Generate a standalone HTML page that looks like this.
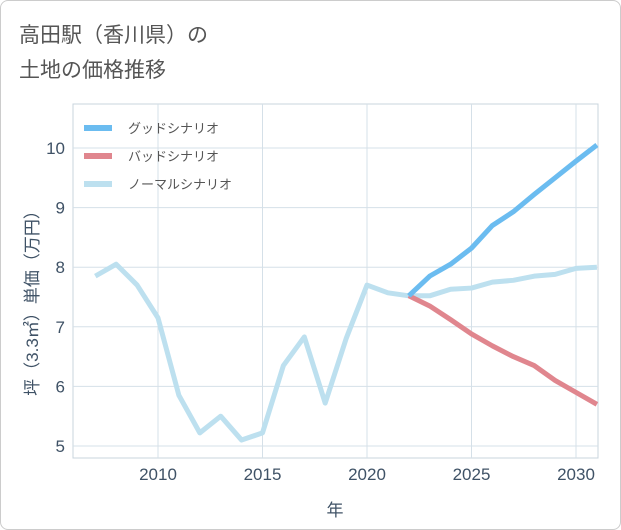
<!DOCTYPE html>
<html><head><meta charset="utf-8"><style>
body{margin:0;background:#fff;font-family:"Liberation Sans","Noto Sans CJK JP",sans-serif;}
#wrap{position:relative;width:619px;height:528px;border:1px solid #ccc;border-radius:8px;overflow:hidden;background:#fff}
</style></head><body>
<div id="wrap">
<svg id="chart" width="621" height="530">
<text x="18" y="41" font-size="21" fill="#555">高田駅（香川県）の</text>
<text x="18" y="76" font-size="21" fill="#555">土地の価格推移</text>
<g id="grid"></g><g id="axes"></g><g id="series"></g><g id="legend"></g>
</svg></div>
<script>
const years=[2007,2008,2009,2010,2011,2012,2013,2014,2015,2016,2017,2018,2019,2020,2021,2022,2023,2024,2025,2026,2027,2028,2029,2030,2031];
const normal=[7.85,8.05,7.7,7.15,5.85,5.22,5.5,5.1,5.22,6.35,6.83,5.72,6.8,7.7,7.57,7.52,7.52,7.63,7.65,7.75,7.78,7.85,7.88,7.98,8.0];
const goodYears=[2022,2023,2024,2025,2026,2027,2028,2029,2030,2031];
const good=[7.52,7.85,8.05,8.32,8.7,8.93,9.22,9.5,9.78,10.05];
const bad=[7.52,7.35,7.12,6.88,6.68,6.5,6.35,6.1,5.9,5.7];
const xTicks=[2010,2015,2020,2025,2030];
const yTicks=[5,6,7,8,9,10];
const L=72,R=597,T=103,B=457;
const xs=y=>157+(y-2010)*20.9;
const ys=v=>445-(v-5)*59.6;
const NS="http://www.w3.org/2000/svg";
const TC='#3f5266';
function mk(t,a,p){const e=document.createElementNS(NS,t);for(const k in a)e.setAttribute(k,a[k]);p.appendChild(e);return e;}
const grid=document.getElementById('grid'),axes=document.getElementById('axes'),ser=document.getElementById('series'),leg=document.getElementById('legend');
const frame=mk('rect',{x:L,y:T,width:R-L,height:B-T,fill:'none',stroke:'#c8d4de'},grid);


xTicks.forEach(t=>{const l=mk('line',{x1:xs(t),x2:xs(t),y1:T,y2:B,stroke:'#d5e0e8'},grid);


const tx=mk('text',{x:xs(t),y:B+22,'font-size':17,fill:TC,'text-anchor':'middle'},axes);tx.textContent=t;

});
yTicks.forEach(t=>{const l=mk('line',{x1:L,x2:R,y1:ys(t),y2:ys(t),stroke:'#d5e0e8'},grid);


const tx=mk('text',{x:L-8,y:ys(t)+6,'font-size':17,fill:TC,'text-anchor':'end'},axes);tx.textContent=t;

});
const xt=mk('text',{x:334,y:515,'font-size':17,fill:TC,'text-anchor':'middle'},axes);xt.textContent='年';


const yt=mk('text',{x:0,y:0,'font-size':17,fill:TC,'text-anchor':'middle',transform:'translate(37,298) rotate(-90)'},axes);yt.textContent='坪（3.3㎡）単価（万円）';


function line(xv,yv,c,n){const p=mk('polyline',{points:xv.map((x,i)=>xs(x)+','+ys(yv[i])).join(' '),fill:'none',stroke:c,'stroke-width':5,'stroke-linejoin':'round'},ser);

}
line(years,normal,'#bde0ef','normal-scenario-line');
line(goodYears,bad,'#e0868e','bad-scenario-line');
line(goodYears,good,'#6bbcf0','good-scenario-line');
[['グッドシナリオ','#6bbcf0'],['バッドシナリオ','#e0868e'],['ノーマルシナリオ','#bde0ef']].forEach((d,i)=>{const y=127+i*28;
const s=mk('line',{x1:83,x2:111,y1:y,y2:y,stroke:d[1],'stroke-width':6},leg);


const t=mk('text',{x:127,y:y+5,'font-size':13,fill:'#555'},leg);t.textContent=d[0];

});
</script></body></html>
